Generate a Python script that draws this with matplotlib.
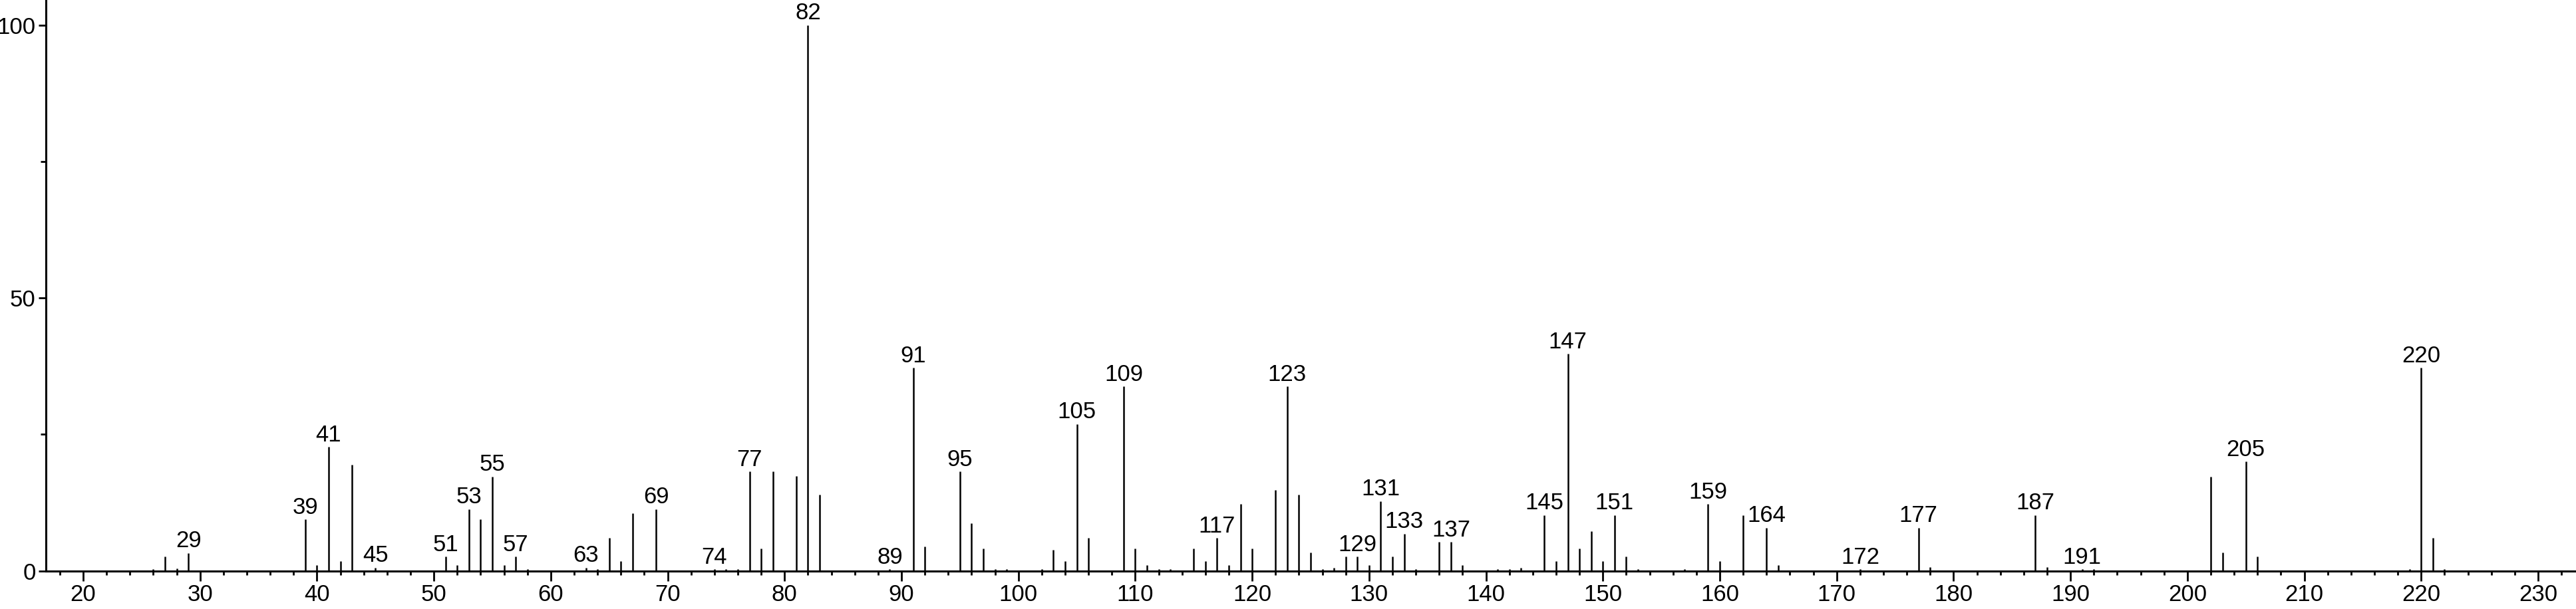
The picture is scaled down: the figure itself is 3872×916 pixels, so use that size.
import matplotlib.pyplot as plt
from matplotlib.ticker import MultipleLocator

plt.rcParams['font.family'] = ['Liberation Sans', 'DejaVu Sans']

# m/z values and relative intensities
mz = [26, 27, 28, 29, 39, 40, 41, 42, 43, 45, 51, 52, 53, 54, 55, 56, 57, 58,
      63, 64, 65, 66, 67, 69, 74, 75, 76, 77, 78, 79, 81, 82, 83, 89, 91, 92,
      95, 96, 97, 98, 99, 102, 103, 104, 105, 106, 109, 110, 111, 112, 113,
      115, 116, 117, 118, 119, 120, 122, 123, 124, 125, 126, 127, 128, 129,
      130, 131, 132, 133, 134, 136, 137, 138, 141, 142, 143, 145, 146, 147,
      148, 149, 150, 151, 152, 153, 157, 159, 160, 162, 164, 165, 172, 177,
      178, 187, 188, 191, 192, 202, 203, 205, 206, 219, 220, 221, 222]
intensity = [0.3, 2.6, 0.4, 3.3, 9.4, 1.1, 22.7, 1.8, 19.4, 0.6, 2.6, 1.1, 11.3,
             9.5, 17.3, 1.1, 2.6, 0.3, 0.6, 0.3, 6.0, 1.8, 10.6, 11.3, 0.3, 0.3,
             0.3, 18.2, 4.1, 18.2, 17.4, 100.0, 14.0, 0.3, 37.2, 4.5, 18.2, 8.7,
             4.1, 0.3, 0.3, 0.3, 3.8, 1.8, 26.9, 6.0, 33.8, 4.1, 1.1, 0.3, 0.3,
             4.1, 1.8, 6.0, 1.1, 12.2, 4.1, 14.8, 33.8, 14.0, 3.4, 0.3, 0.6, 2.6,
             2.6, 1.1, 12.8, 2.6, 6.8, 0.3, 5.3, 5.3, 1.1, 0.3, 0.3, 0.6, 10.2,
             1.8, 39.8, 4.1, 7.2, 1.8, 10.2, 2.6, 0.3, 0.3, 12.2, 1.8, 10.2, 7.9,
             1.1, 0.3, 7.9, 0.7, 10.2, 0.7, 0.3, 0.3, 17.3, 3.4, 20.0, 2.6, 0.3,
             37.2, 6.0, 0.3]

# peaks that carry a label
labeled = [29, 39, 41, 45, 51, 53, 55, 57, 63, 69, 74, 77, 82, 89, 91, 95, 105,
           109, 117, 123, 129, 131, 133, 137, 145, 147, 151, 159, 164, 172, 177,
           187, 191, 205, 220]

W, H = 3872, 916
fig = plt.figure(figsize=(W / 100, H / 100), dpi=100)
ax = fig.add_axes([69 / W, 57.4 / H, 1 - 69 / W, 1 - 57.4 / H])

ax.vlines(mz, 0, intensity, color='black', linewidth=1.8)

for m in labeled:
    v = intensity[mz.index(m)]
    ax.annotate(str(m), (m, v), xytext=(0, 1), textcoords='offset points',
                ha='center', va='bottom', fontsize=25, color='black')

ax.set_xlim(16.81, 233.24)
ax.set_ylim(0, 104.6)

ax.xaxis.set_major_locator(MultipleLocator(10))
ax.xaxis.set_minor_locator(MultipleLocator(2))
ax.yaxis.set_major_locator(MultipleLocator(50))
ax.yaxis.set_minor_locator(MultipleLocator(25))

for s in ['top', 'right']:
    ax.spines[s].set_visible(False)
for s in ['left', 'bottom']:
    ax.spines[s].set_linewidth(2.2)

ax.tick_params(axis='x', which='major', direction='out', length=11, width=2,
               labelsize=25, pad=3)
ax.tick_params(axis='x', which='minor', direction='out', length=4.5, width=2)
ax.tick_params(axis='y', which='major', direction='out', length=8, width=2,
               labelsize=25, pad=3)
ax.tick_params(axis='y', which='minor', direction='out', length=6, width=2)

fig.savefig('out.png', dpi=100)
